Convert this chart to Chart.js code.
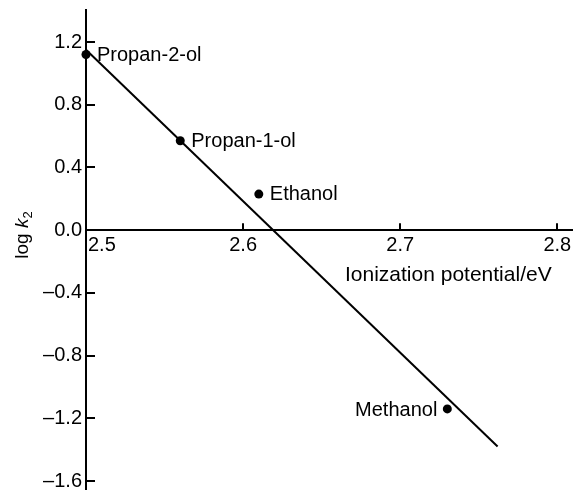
<!DOCTYPE html>
<html>
<head>
<meta charset="utf-8">
<script src="https://cdn.jsdelivr.net/npm/chart.js@4"></script>
<style>
html, body { margin: 0; padding: 0; background: #fff; }
#wrap { width: 573px; height: 490px; }
</style>
</head>
<body>
<div id="wrap"><canvas id="myChart"></canvas></div>
<script>
// values
const alcohols = ['Propan-2-ol', 'Propan-1-ol', 'Ethanol', 'Methanol'];
const ionizationPotential = [2.50, 2.56, 2.61, 2.73];
const logK2 = [1.12, 0.57, 0.23, -1.14];
// fitted straight line, end points
const fitX = [2.50, 2.762];
const fitY = [1.15, -1.38];
const xTicks = [2.5, 2.6, 2.7, 2.8];
const yTicks = [-1.6, -1.2, -0.8, -0.4, 0.0, 0.4, 0.8, 1.2];

const FONT = "'Liberation Sans', Arial, Helvetica, sans-serif";

// inward ticks, point labels and axis titles
const extras = {
    id: 'extras',
    afterDraw(chart) {
        const ctx = chart.ctx;
        const xs = chart.scales.x;
        const ys = chart.scales.y;
        const left = chart.chartArea.left;
        const y0 = ys.getPixelForValue(0);
        ctx.save();
        ctx.strokeStyle = '#000';
        ctx.lineWidth = 2;
        ctx.beginPath();
        yTicks.forEach(v => {
            if (v === 0) return;
            const py = Math.round(ys.getPixelForValue(v));
            ctx.moveTo(left, py);
            ctx.lineTo(left + 9, py);
        });
        xTicks.forEach(v => {
            if (v === 2.5) return;
            const px = Math.round(xs.getPixelForValue(v));
            ctx.moveTo(px, y0);
            ctx.lineTo(px, y0 - 7);
        });
        ctx.stroke();

        ctx.fillStyle = '#000';
        ctx.font = '20px ' + FONT;
        // 2.5 label sits right of the axis
        ctx.textAlign = 'left';
        ctx.textBaseline = 'top';
        ctx.fillText('2.5', left + 2, y0 + 5);

        // point labels
        ctx.textBaseline = 'alphabetic';
        alcohols.forEach((name, i) => {
            const px = xs.getPixelForValue(ionizationPotential[i]);
            const py = ys.getPixelForValue(logK2[i]);
            if (name === 'Methanol') {
                ctx.textAlign = 'right';
                ctx.fillText(name, px - 10, py + 7);
            } else {
                ctx.textAlign = 'left';
                ctx.fillText(name, px + 11, py + 6);
            }
        });

        // x title
        ctx.font = '21px ' + FONT;
        ctx.textAlign = 'left';
        ctx.fillText('Ionization potential/eV', 345, 281);

        // y title: log k2, rotated
        ctx.translate(28, 235);
        ctx.rotate(-Math.PI / 2);
        ctx.font = '19px ' + FONT;
        const w1 = ctx.measureText('log ').width;
        ctx.font = 'italic 19px ' + FONT;
        const w2 = ctx.measureText('k').width;
        ctx.font = '13px ' + FONT;
        const w3 = ctx.measureText('2').width;
        let x = -(w1 + w2 + w3) / 2;
        ctx.font = '19px ' + FONT;
        ctx.fillText('log ', x, 0);
        x += w1;
        ctx.font = 'italic 19px ' + FONT;
        ctx.fillText('k', x, 0);
        x += w2;
        ctx.font = '13px ' + FONT;
        ctx.fillText('2', x, 4);
        ctx.restore();
    }
};

const ctx = document.getElementById('myChart').getContext('2d');
const myChart = new Chart(ctx, {
    type: 'scatter',
    data: {
        datasets: [{
            data: fitX.map((x, i) => ({ x: x, y: fitY[i] })),
            showLine: true,
            borderColor: '#000',
            borderWidth: 2,
            pointRadius: 0,
            clip: false
        }, {
            data: ionizationPotential.map((x, i) => ({ x: x, y: logK2[i] })),
            backgroundColor: '#000',
            borderColor: '#000',
            pointRadius: 4.5,
            borderWidth: 0,
            clip: false
        }]
    },
    options: {
        responsive: true,
        maintainAspectRatio: false,
        animation: false,
        layout: { autoPadding: false, padding: { top: 10, left: 0, right: 0, bottom: 0 } },
        plugins: {
            legend: { display: false },
            tooltip: { enabled: false }
        },
        scales: {
            x: {
                type: 'linear',
                position: { y: 0 },
                min: 2.5,
                max: 2.81,
                afterBuildTicks: s => { s.ticks = xTicks.map(v => ({ value: v })); },
                afterFit: s => { s.height = 0; s.paddingLeft = 0; s.paddingRight = 0; },
                ticks: {
                    callback: v => (v === 2.5 ? '' : v.toFixed(1)),
                    color: '#000',
                    font: { family: FONT, size: 20 },
                    padding: 3,
                    maxRotation: 0,
                    autoSkip: false
                },
                grid: { drawOnChartArea: false, drawTicks: false },
                border: { display: true, color: '#000', width: 2 }
            },
            y: {
                type: 'linear',
                position: 'left',
                min: -1.657,
                max: 1.404,
                afterBuildTicks: s => { s.ticks = yTicks.map(v => ({ value: v })); },
                afterFit: s => { s.width = 86; s.paddingTop = 0; s.paddingBottom = 0; },
                ticks: {
                    callback: v => (v < -0.001 ? '\u2013' : '') + Math.abs(v).toFixed(1),
                    color: '#000',
                    font: { family: FONT, size: 20 },
                    padding: 4,
                    autoSkip: false
                },
                grid: { drawOnChartArea: false, drawTicks: false },
                border: { display: true, color: '#000', width: 2 }
            }
        }
    },
    plugins: [extras]
});
</script>
</body>
</html>
